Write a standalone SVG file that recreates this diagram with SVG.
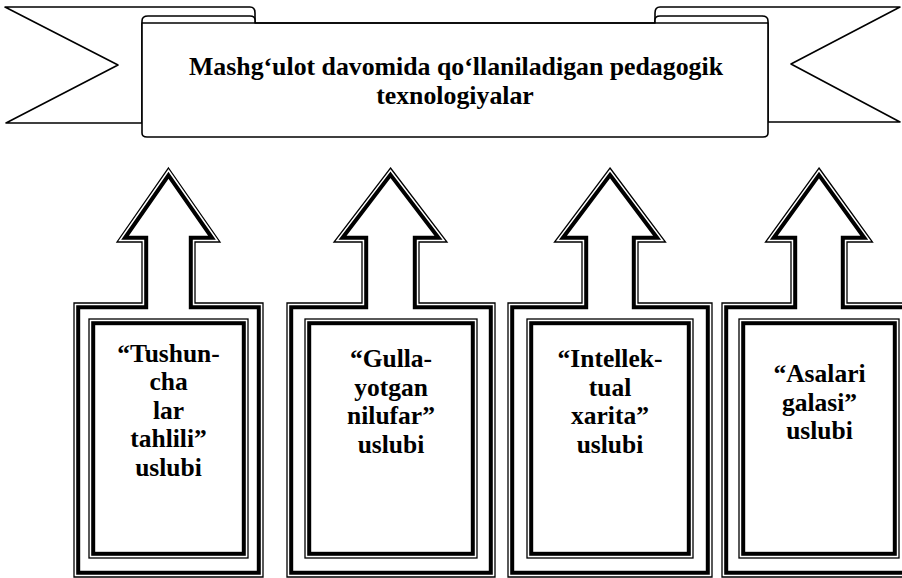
<svg xmlns="http://www.w3.org/2000/svg" width="902" height="578" viewBox="0 0 902 578">
<style>
.bg{fill:#fff}
.ln{fill:#fff;stroke:#000;stroke-width:1.6;stroke-linejoin:round}
.thin{fill:#fff;stroke:#000;stroke-width:1.3;stroke-linejoin:miter}
.thick{fill:none;stroke:#000;stroke-width:4;stroke-linejoin:miter}
.t{font-family:"Liberation Serif","Times New Roman",serif;font-weight:bold;fill:#000;text-anchor:middle}
.title{font-size:25.8px}
.lbl{font-size:25.5px}
</style>
<rect class="bg" x="0" y="0" width="902" height="578"/>
<g id="banner">
<path class="ln" d="M5,7 L250,7 Q255,7 255,13 L255,23 L142,23 L142,123 L6,123 L118,65 Z"/>
<path class="ln" d="M900,7 L660,7 Q655,7 655,13 L655,23 L768,23 L768,122 L900,122 L791,64 Z"/>
<path class="ln" d="M142,133 L142,21 Q142,16 148,16 L250,16 Q255,16 255,20 L255,23 L655,23 L655,20 Q655,16 660,16 L762,16 Q768,16 768,21 L768,133 Q768,137 763,137 L147,137 Q142,137 142,133 Z"/>
<path class="ln" d="M142,23 L768,23" fill="none"/>
<text class="t title" x="456" y="75">Mashg‘ulot davomida qo‘llaniladigan pedagogik</text>
<text class="t title" x="455" y="104">texnologiyalar</text>
</g>
<g id="connectors"></g>
<g id="node1">
<path class="thin" d="M168.5,168 L220,242 L195,242 L195,303 L263,303 L263,577 L74,577 L74,303 L142,303 L142,242 L117,242 Z"/>
<path class="thick" d="M168.5,175.35 L212,237.8 L190.8,237.8 L190.8,307.2 L258.8,307.2 L258.8,572.8 L78.2,572.8 L78.2,307.2 L146.2,307.2 L146.2,237.8 L125,237.8 Z"/>
<rect class="thin" x="89" y="319" width="159" height="239"/>
<rect class="thick" x="93.2" y="323.2" width="150.6" height="230.6"/>
<text class="t lbl" x="168.5" y="361.5">“Tushun-</text>
<text class="t lbl" x="168.5" y="390">cha</text>
<text class="t lbl" x="168.5" y="418.5">lar</text>
<text class="t lbl" x="168.5" y="447">tahlili”</text>
<text class="t lbl" x="168.5" y="475.5">uslubi</text>
</g>
<g id="node2">
<path class="thin" d="M390.5,168 L447,242 L419,242 L419,303 L495,303 L495,577 L287,577 L287,303 L362,303 L362,242 L334,242 Z"/>
<path class="thick" d="M390.5,174.9 L438.5,237.8 L414.8,237.8 L414.8,307.2 L490.8,307.2 L490.8,572.8 L291.2,572.8 L291.2,307.2 L366.2,307.2 L366.2,237.8 L342.5,237.8 Z"/>
<rect class="thin" x="305" y="319" width="172" height="239"/>
<rect class="thick" x="309.2" y="323.2" width="163.6" height="230.6"/>
<text class="t lbl" x="391" y="367">“Gulla-</text>
<text class="t lbl" x="391" y="395.5">yotgan</text>
<text class="t lbl" x="391" y="424">nilufar”</text>
<text class="t lbl" x="391" y="452.5">uslubi</text>
</g>
<g id="node3">
<path class="thin" d="M610,168 L665.5,242 L638,242 L638,303 L712,303 L712,577 L508,577 L508,303 L582,303 L582,242 L554.5,242 Z"/>
<path class="thick" d="M610,175 L657.1,237.8 L633.8,237.8 L633.8,307.2 L707.8,307.2 L707.8,572.8 L512.2,572.8 L512.2,307.2 L586.2,307.2 L586.2,237.8 L562.9,237.8 Z"/>
<rect class="thin" x="527" y="319" width="166" height="239"/>
<rect class="thick" x="531.2" y="323.2" width="157.6" height="230.6"/>
<text class="t lbl" x="610" y="367">“Intellek-</text>
<text class="t lbl" x="610" y="395.5">tual</text>
<text class="t lbl" x="610" y="424">xarita”</text>
<text class="t lbl" x="610" y="452.5">uslubi</text>
</g>
<g id="node4">
<path class="thin" d="M819,168 L872.5,242 L847,242 L847,303 L916,303 L916,577 L722,577 L722,303 L791,303 L791,242 L765.5,242 Z"/>
<path class="thick" d="M819,175.2 L864.3,237.8 L842.8,237.8 L842.8,307.2 L911.8,307.2 L911.8,572.8 L726.2,572.8 L726.2,307.2 L795.2,307.2 L795.2,237.8 L773.7,237.8 Z"/>
<rect class="thin" x="739" y="319" width="160" height="239"/>
<rect class="thick" x="743.2" y="323.2" width="151.6" height="230.6"/>
<text class="t lbl" x="819.5" y="382">“Asalari</text>
<text class="t lbl" x="819.5" y="410.5">galasi”</text>
<text class="t lbl" x="819.5" y="439">uslubi</text>
</g>
</svg>
